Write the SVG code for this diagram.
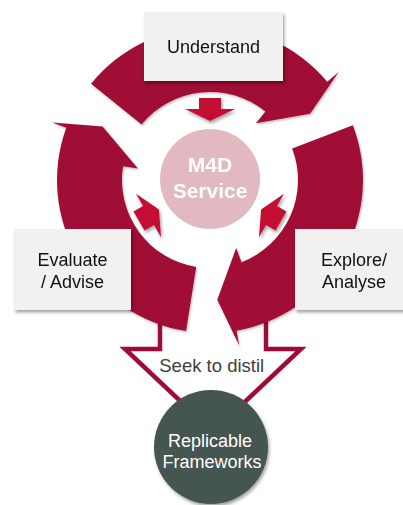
<svg xmlns="http://www.w3.org/2000/svg" xmlns:xlink="http://www.w3.org/1999/xlink" width="403" height="505" viewBox="0 0 403 505">
  <style>
    .ring { fill: #A00B35; }
    .inarrow { fill: #C40C33; }
    .box { fill: #F1F1F1; }
    .lbl { font-family: "Liberation Sans", Arial, sans-serif; font-size: 18px; fill: #111111; text-anchor: middle; }
    .core { font-family: "Liberation Sans", Arial, sans-serif; font-size: 21px; font-weight: bold; fill: #FFFFFF; text-anchor: middle; }
    .white { font-family: "Liberation Sans", Arial, sans-serif; font-size: 18px; fill: #FFFFFF; text-anchor: middle; }
    .grey { font-family: "Liberation Sans", Arial, sans-serif; font-size: 18.5px; fill: #404040; text-anchor: middle; }
  </style>
  <defs>
    <filter id="sh" x="-20%" y="-20%" width="140%" height="140%">
      <feDropShadow dx="1.5" dy="2.5" stdDeviation="1.8" flood-color="#000" flood-opacity="0.35"/>
    </filter>
    <filter id="shs" x="-20%" y="-20%" width="140%" height="140%">
      <feDropShadow dx="1" dy="1.5" stdDeviation="1" flood-color="#000" flood-opacity="0.25"/>
    </filter>
    <path id="ringArrow" d="M 91.1 83.7 A 153 153 0 0 1 327.2 81.7 L 338.7 72.0 L 310.1 113.8 L 255.9 123.3 L 265.4 111.6 A 88 88 0 0 0 141.6 124.6 Z"/>
    <polygon id="smallArrow" points="199,98 221,98 221,109 235,109 210,121 185,109 199,109"/>
  </defs>

  <g id="connectors">
    <g id="distil-arrow">
      <path d="M 160 300 L 160 349 L 125 349 L 213 432 L 301 349 L 266 349 L 266 300" fill="#FFFFFF" stroke="#A00B35" stroke-width="4.5" stroke-linejoin="miter"/>
      <text class="grey" x="211.7" y="372">Seek to distil</text>
    </g>
    <g id="cycle" filter="url(#shs)">
      <use xlink:href="#ringArrow" class="ring"/>
      <use xlink:href="#ringArrow" class="ring" transform="rotate(120 210 180)"/>
      <use xlink:href="#ringArrow" class="ring" transform="rotate(240 210 180)"/>
    </g>
    <g id="inward-arrows" filter="url(#sh)">
      <use xlink:href="#smallArrow" class="inarrow"/>
      <use xlink:href="#smallArrow" class="inarrow" transform="rotate(120 210 180)"/>
      <use xlink:href="#smallArrow" class="inarrow" transform="rotate(-120 210 180)"/>
    </g>
  </g>

  <g id="m4d">
    <circle cx="210" cy="179" r="50" fill="#E2B9C0"/>
    <text class="core" x="210" y="172">M4D</text>
    <text class="core" x="210" y="198">Service</text>
  </g>

  <g id="understand">
    <rect class="box" x="144" y="12" width="139" height="69" filter="url(#sh)"/>
    <text class="lbl" x="213.5" y="53">Understand</text>
  </g>

  <g id="evaluate">
    <rect class="box" x="14" y="229" width="117" height="81" filter="url(#sh)"/>
    <text class="lbl" x="72.5" y="266">Evaluate</text>
    <text class="lbl" x="72.5" y="288">/ Advise</text>
  </g>

  <g id="explore">
    <rect class="box" x="295" y="229" width="117" height="81" filter="url(#sh)"/>
    <text class="lbl" x="354" y="266">Explore/</text>
    <text class="lbl" x="354" y="288">Analyse</text>
  </g>

  <g id="replicable">
    <circle cx="211" cy="447" r="57" fill="#445450" filter="url(#sh)"/>
    <text class="white" x="210" y="447">Replicable</text>
    <text class="white" x="212" y="468">Frameworks</text>
  </g>
</svg>
